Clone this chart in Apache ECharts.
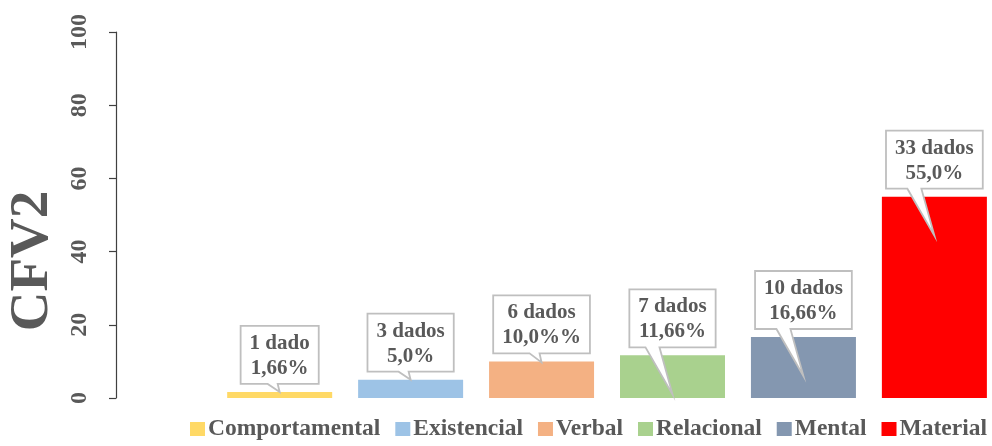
<!DOCTYPE html>
<html>
<head>
<meta charset="utf-8">
<script src="https://cdn.jsdelivr.net/npm/echarts@6/dist/echarts.min.js"></script>
<style>
  html, body { margin: 0; padding: 0; background: #fff; }
  #chart { width: 992px; height: 446px; }
</style>
</head>
<body>
<div id="chart"></div>
<script>
// Process types and their share in CFV2
const categories = ['Comportamental', 'Existencial', 'Verbal', 'Relacional', 'Mental', 'Material'];
const percentages = [1.66, 5.0, 10.0, 11.66, 16.66, 55.0];
const counts = [1, 3, 6, 7, 10, 33];
const percentLabels = ['1,66%', '5,0%', '10,0%%', '11,66%', '16,66%', '55,0%'];
const yTicks = [0, 20, 40, 60, 80, 100];
const axisTitle = 'CFV2';

// Styling
const colors = ['#FFD966', '#9DC3E6', '#F4B183', '#A9D18E', '#8497B0', '#FF0000'];
const calloutTail = [8, 8, 9, 47, 47, 47];   // how far each callout tip reaches below the box
const FONT = '"Liberation Serif", "Times New Roman", serif';
const TEXT = '#595959';

const measureCtx = document.createElement('canvas').getContext('2d');
const labelFont = 'bold 21px ' + FONT;
function textWidth(s) { measureCtx.font = labelFont; return measureCtx.measureText(s).width; }

const chart = echarts.init(document.getElementById('chart'), null, { renderer: 'canvas' });

// One series per category (each bar gets its own legend entry); barGap -100% keeps
// every series centred on its own x position.
const barSeries = categories.map((name, i) => ({
  name: name,
  type: 'bar',
  barWidth: 105,
  barGap: '-100%',
  itemStyle: { color: colors[i] },
  emphasis: { disabled: true },
  data: [[i, percentages[i]]]
}));

// Callout boxes (box + pointer) anchored to each bar's top
const calloutSeries = {
  type: 'custom',
  silent: true,
  z: 10,
  data: categories.map((_, i) => [i, percentages[i], counts[i]]),
  renderItem: function (params, api) {
    const i = params.dataIndex;
    const pt = api.coord([api.value(0), api.value(1)]);
    const cx = pt[0], barTop = pt[1];
    const n = api.value(2);
    const line1 = n + (n === 1 ? ' dado' : ' dados');
    const line2 = percentLabels[i];
    const w = Math.max(textWidth(line1), textWidth(line2)) + 18;
    const h = 58;
    const gap = 8;
    const y1 = barTop - gap;
    const y0 = y1 - h;
    const x0 = cx - w / 2, x1 = cx + w / 2;
    const deep = calloutTail[i] > 20;
    const bx0 = cx - (deep ? 27 : 12);
    const bx1 = cx - (deep ? 13 : 2);
    const tipY = y1 + calloutTail[i];
    return {
      type: 'group',
      children: [
        {
          type: 'polygon',
          shape: { points: [[x0, y0], [x1, y0], [x1, y1], [bx1, y1], [cx, tipY], [bx0, y1], [x0, y1]] },
          style: { fill: '#ffffff', stroke: '#BFBFBF', lineWidth: 1.8, lineJoin: 'miter' }
        },
        {
          type: 'text',
          style: {
            x: cx, y: (y0 + y1) / 2 + 1,
            text: line1 + '\n' + line2,
            font: labelFont,
            fill: TEXT,
            align: 'center',
            verticalAlign: 'middle',
            lineHeight: 25
          }
        }
      ]
    };
  }
};

chart.setOption({
  animation: false,
  backgroundColor: '#ffffff',
  grid: { left: 116, right: 0, top: 32, bottom: 48, containLabel: false },
  legend: {
    data: categories,
    left: 185,
    bottom: 0,
    icon: 'rect',
    itemWidth: 15,
    itemHeight: 14,
    itemGap: 15,
    textStyle: { fontFamily: FONT, fontWeight: 'bold', fontSize: 23.5, color: TEXT, padding: [0, 0, 0, -2] }
  },
  xAxis: {
    type: 'value',
    min: -1.25,
    max: 5.44,
    axisLine: { show: false },
    axisTick: { show: false },
    axisLabel: { show: false },
    splitLine: { show: false }
  },
  yAxis: {
    type: 'value',
    min: yTicks[0],
    max: yTicks[yTicks.length - 1],
    interval: 20,
    axisLine: { show: true, onZero: false, lineStyle: { color: '#404040', width: 1.2 } },
    axisTick: { show: true, length: 7, lineStyle: { color: '#404040', width: 1.2 } },
    splitLine: { show: false },
    axisLabel: {
      rotate: 90,
      margin: 24,
      fontFamily: FONT,
      fontWeight: 'bold',
      fontSize: 24,
      color: TEXT
    }
  },
  graphic: [{
    type: 'text',
    x: 33,
    y: 261,
    rotation: Math.PI / 2,
    style: {
      text: axisTitle,
      font: 'bold 55px ' + FONT,
      fill: TEXT,
      align: 'center',
      verticalAlign: 'middle'
    }
  }],
  series: barSeries.concat([calloutSeries])
});
</script>
</body>
</html>
